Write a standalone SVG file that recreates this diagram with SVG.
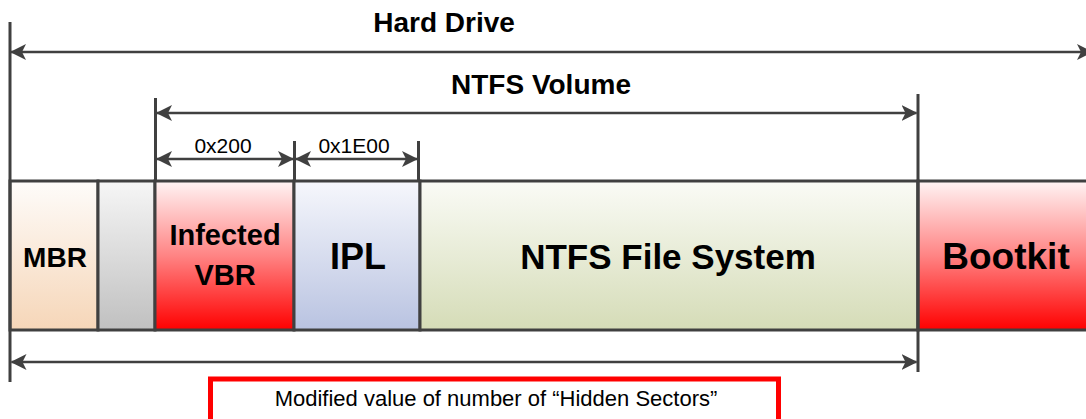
<svg xmlns="http://www.w3.org/2000/svg" width="1086" height="419" viewBox="0 0 1086 419">
<style>
.box{stroke:#404040;stroke-width:3}
.dim{stroke:#404040;stroke-width:2.5;fill:none}
.ext{stroke:#404040;stroke-width:3;fill:none}
.lbl{font-family:"Liberation Sans",Arial,sans-serif;font-weight:bold;fill:#000;text-anchor:middle}
.small{font-family:"Liberation Sans",Arial,sans-serif;fill:#000;text-anchor:middle}
</style>
<defs>
<marker id="ah" viewBox="0 0 16 16" refX="15" refY="8" markerWidth="16" markerHeight="16" markerUnits="userSpaceOnUse" orient="auto-start-reverse">
<path d="M0,0 L16,8 L0,16 L4,8 Z" fill="#404040"/>
</marker>
<linearGradient id="gMbr" x1="0" y1="0" x2="0" y2="1"><stop offset="0" stop-color="#fefcfa"/><stop offset="1" stop-color="#f6d6b8"/></linearGradient>
<linearGradient id="gGray" x1="0" y1="0" x2="0" y2="1"><stop offset="0" stop-color="#f6f6f6"/><stop offset="1" stop-color="#c0c0c0"/></linearGradient>
<linearGradient id="gRed" x1="0" y1="0" x2="0" y2="1"><stop offset="0" stop-color="#fff4f4"/><stop offset="0.5" stop-color="#ff8484"/><stop offset="1" stop-color="#ff0000"/></linearGradient>
<linearGradient id="gIpl" x1="0" y1="0" x2="0" y2="1"><stop offset="0" stop-color="#f6f7fc"/><stop offset="1" stop-color="#b9c3e1"/></linearGradient>
<linearGradient id="gNtfs" x1="0" y1="0" x2="0" y2="1"><stop offset="0" stop-color="#fafbf6"/><stop offset="1" stop-color="#d5dcb7"/></linearGradient>
</defs>
<rect width="1086" height="419" fill="#ffffff"/>

<g id="mbr">
<rect class="box" x="10" y="181" width="88" height="149" fill="url(#gMbr)"/>
<text class="lbl" x="55" y="267" font-size="28">MBR</text>
</g>
<g id="gap">
<rect class="box" x="98" y="181" width="57" height="149" fill="url(#gGray)"/>
</g>
<g id="vbr">
<rect class="box" x="155" y="181" width="139" height="149" fill="url(#gRed)"/>
<text class="lbl" x="225" y="245" font-size="29">Infected</text>
<text class="lbl" x="225" y="285" font-size="29">VBR</text>
</g>
<g id="ipl">
<rect class="box" x="294" y="181" width="126" height="149" fill="url(#gIpl)"/>
<text class="lbl" x="358" y="269" font-size="36">IPL</text>
</g>
<g id="ntfs">
<rect class="box" x="420" y="181" width="498" height="149" fill="url(#gNtfs)"/>
<text class="lbl" x="668" y="269" font-size="35">NTFS File System</text>
</g>
<g id="bootkit">
<rect class="box" x="918" y="181" width="172" height="149" fill="url(#gRed)"/>
<text class="lbl" x="1006" y="269" font-size="37">Bootkit</text>
</g>

<g id="connectors">
<line class="ext" x1="10" y1="22" x2="10" y2="382"/>
<line class="ext" x1="155.5" y1="98" x2="155.5" y2="181"/>
<line class="ext" x1="294.5" y1="141" x2="294.5" y2="181"/>
<line class="ext" x1="418.5" y1="141" x2="418.5" y2="181"/>
<line class="ext" x1="918" y1="94" x2="918" y2="372"/>
<line class="dim" x1="11" y1="52" x2="1092" y2="52" marker-start="url(#ah)" marker-end="url(#ah)"/>
<line class="dim" x1="157" y1="113" x2="916.5" y2="113" marker-start="url(#ah)" marker-end="url(#ah)"/>
<line class="dim" x1="157" y1="159" x2="293" y2="159" marker-start="url(#ah)" marker-end="url(#ah)"/>
<line class="dim" x1="296" y1="159" x2="417" y2="159" marker-start="url(#ah)" marker-end="url(#ah)"/>
<line class="dim" x1="11.5" y1="362" x2="916.5" y2="362" marker-start="url(#ah)" marker-end="url(#ah)"/>
</g>

<g id="labels">
<text class="lbl" x="444" y="32" font-size="28">Hard Drive</text>
<text class="lbl" x="541" y="94" font-size="28">NTFS Volume</text>
<text class="small" x="223" y="153" font-size="21">0x200</text>
<text class="small" x="354" y="153" font-size="21">0x1E00</text>
</g>

<g id="note">
<rect x="210.5" y="379" width="568" height="50" fill="#ffffff" stroke="#ff0000" stroke-width="5"/>
<text class="small" x="496" y="406" font-size="22">Modified value of number of “Hidden Sectors”</text>
</g>
</svg>
